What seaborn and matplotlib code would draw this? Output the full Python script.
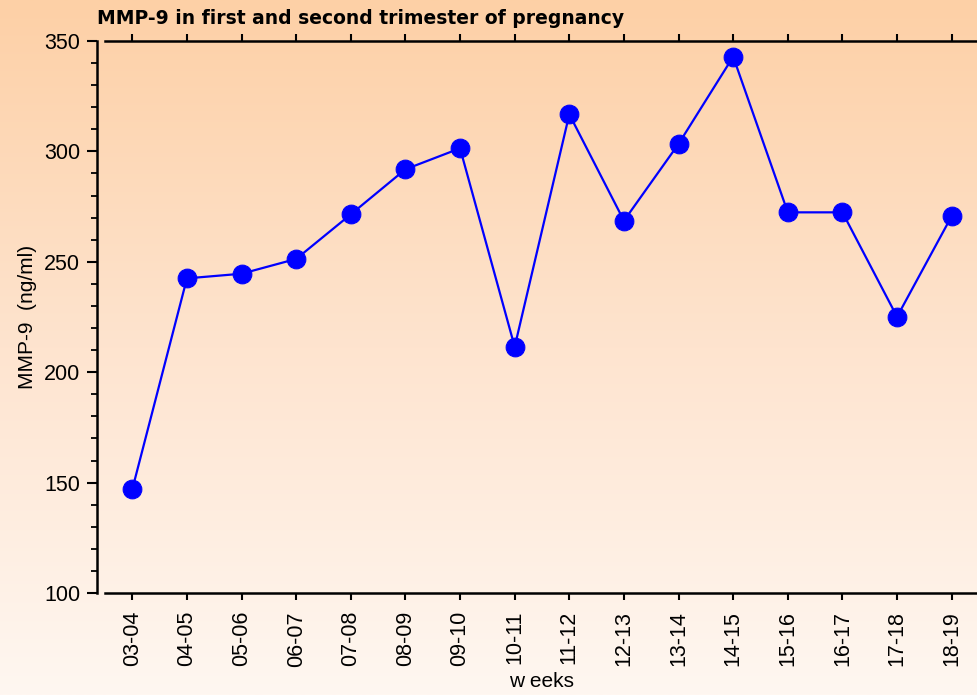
import seaborn as sns
import matplotlib.pyplot as plt
import matplotlib.colors as mcolors
from matplotlib.ticker import MultipleLocator
import pandas as pd
import numpy as np

# values
weeks = ["03-04", "04-05", "05-06", "06-07", "07-08", "08-09", "09-10", "10-11",
         "11-12", "12-13", "13-14", "14-15", "15-16", "16-17", "17-18", "18-19"]
mmp9 = [147, 242.5, 244.6, 251.3, 271.5, 291.9, 301.4, 211.5,
        316.8, 268.6, 303.4, 342.9, 272.4, 272.4, 225.1, 270.7]
yticks = [100, 150, 200, 250, 300, 350]

df = pd.DataFrame({"weeks": weeks, "mmp9": mmp9})

sns.set_style("ticks")
plt.rcParams['font.family'] = ['Liberation Sans', 'DejaVu Sans']
plt.rcParams['text.color'] = 'black'
plt.rcParams['axes.labelcolor'] = 'black'
plt.rcParams['xtick.color'] = 'black'
plt.rcParams['ytick.color'] = 'black'

fig = plt.figure(figsize=(9.78, 6.95), dpi=100)

# peach gradient background over the whole figure
bg = fig.add_axes([0, 0, 1, 1], zorder=0)
grad = np.linspace(0, 1, 256).reshape(-1, 1)
cmap = mcolors.LinearSegmentedColormap.from_list("peach", ["#fdd0a6", "#fee4cf", "#fff7f1"])
bg.imshow(grad, aspect="auto", cmap=cmap, extent=[0, 1, 0, 1], origin="upper")
bg.set_axis_off()

ax = fig.add_axes([105 / 978, 102 / 695, 874 / 978, 552 / 695], zorder=1)
ax.patch.set_alpha(0)

sns.lineplot(data=df, x="weeks", y="mmp9", ax=ax, color="blue", linewidth=1.6,
             marker="o", markersize=13.5, markeredgecolor="blue", sort=False)

ax.set_xlim(-0.5, len(weeks) - 0.5)
ax.set_ylim(100, 350)
ax.set_yticks(yticks)
ax.yaxis.set_minor_locator(MultipleLocator(10))

ax.spines["right"].set_visible(False)
ax.spines["left"].set_position(("outward", 6))
for s in ["left", "top", "bottom"]:
    ax.spines[s].set_linewidth(1.8)
    ax.spines[s].set_color("black")

ax.tick_params(axis="x", which="major", direction="out", length=5, width=1.5,
               top=True, labelsize=15.5, labelrotation=90, pad=8)
ax.tick_params(axis="y", which="major", direction="out", length=7, width=1.5,
               labelsize=15.5, pad=5)
ax.tick_params(axis="y", which="minor", direction="out", length=4, width=1.3)

ax.set_xlabel("w eeks", fontsize=15, labelpad=4)
ax.set_ylabel("MMP-9  (ng/ml)", fontsize=15, labelpad=5)

fig.text(97 / 978, 1 - 24 / 695, "MMP-9 in first and second trimester of pregnancy",
         fontsize=13.5, fontweight="bold", family="DejaVu Sans",
         ha="left", va="baseline")

fig.savefig("out.png", dpi=100)
